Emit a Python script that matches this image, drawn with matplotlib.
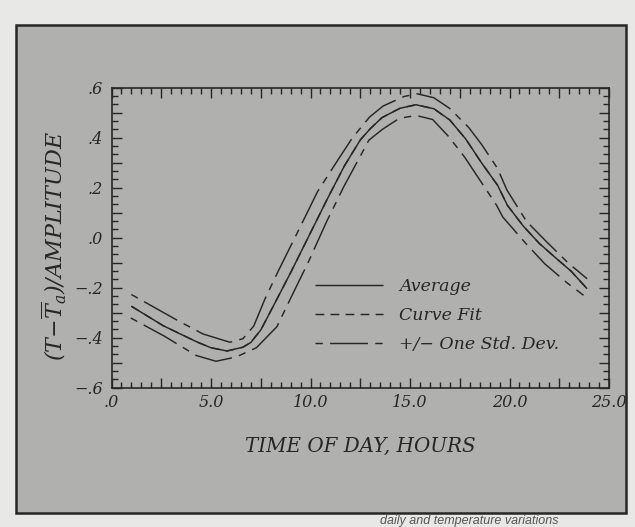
import matplotlib
matplotlib.use("Agg")
import matplotlib.pyplot as plt
from matplotlib.patches import Rectangle
from matplotlib.ticker import FixedLocator, MultipleLocator

# ---------------- data ----------------
avg_hours = [1.0, 2.6, 4.3, 5.0, 5.8, 6.6, 7.0, 7.5, 8.2, 9.05, 9.95, 10.85, 11.7,
             12.5, 13.0, 13.6, 14.5, 15.3, 16.2, 17.0, 17.8, 18.6, 19.4, 19.9,
             20.7, 21.5, 22.3, 23.1, 23.9]
avg_vals = [-0.275, -0.353, -0.418, -0.441, -0.454, -0.439, -0.42, -0.37, -0.264,
            -0.133, 0.011, 0.155, 0.286, 0.39, 0.435, 0.48, 0.517, 0.531, 0.515,
            0.47, 0.394, 0.298, 0.209, 0.128, 0.045, -0.024, -0.08, -0.135, -0.205]

fit_hours = list(avg_hours)
fit_vals = list(avg_vals)

upper_hours = [1.0, 3.3, 4.6, 5.95, 6.6, 7.15, 7.7, 8.4, 9.3, 10.35, 11.4, 12.1,
               12.97, 13.65, 14.7, 15.35, 16.2, 17.0, 17.95, 18.6, 19.4, 19.87,
               20.85, 21.8, 22.95, 23.9]
upper_vals = [-0.228, -0.331, -0.386, -0.419, -0.405, -0.354, -0.248, -0.131, 0.013,
              0.183, 0.313, 0.398, 0.482, 0.526, 0.564, 0.575, 0.559, 0.516, 0.44,
              0.372, 0.276, 0.19, 0.065, -0.012, -0.102, -0.165]

lower_hours = [0.97, 2.62, 4.26, 5.25, 6.26, 7.28, 8.31, 9.02, 9.91, 10.8, 11.69,
               12.58, 12.93, 13.62, 14.47, 15.31, 16.14, 16.95, 17.75, 18.55, 19.35,
               19.66, 20.8, 21.77, 22.9, 23.72]
lower_vals = [-0.322, -0.393, -0.472, -0.495, -0.478, -0.441, -0.357, -0.24, -0.095,
              0.062, 0.206, 0.337, 0.389, 0.433, 0.477, 0.488, 0.472, 0.403, 0.321,
              0.225, 0.129, 0.082, -0.022, -0.105, -0.182, -0.231]

x_tick_values = [0, 5, 10, 15, 20, 25]
x_tick_labels = ['.0', '5.0', '10.0', '15.0', '20.0', '25.0']
y_tick_values = [-0.6, -0.4, -0.2, 0.0, 0.2, 0.4, 0.6]
y_tick_labels = ['\u2212.6', '\u2212.4', '\u2212.2', '.0', '.2', '.4', '.6']

legend_labels = ['Average', 'Curve Fit', '+/\u2212 One Std. Dev.']
x_label = 'TIME OF DAY, HOURS'
y_label = r'$(T{-}\overline{T}_a)$/AMPLITUDE'
caption = 'daily and temperature variations'

# ---------------- style ----------------
plt.rcParams['font.family'] = ['DejaVu Serif']
plt.rcParams['mathtext.fontset'] = 'custom'
plt.rcParams['mathtext.it'] = 'DejaVu Serif:italic'
plt.rcParams['mathtext.rm'] = 'DejaVu Serif:italic'

ink = '#262626'
paper = '#b0b0ae'
outside = '#e8e8e6'

W, H = 635, 527
fig = plt.figure(figsize=(W / 100, H / 100), dpi=100, facecolor=outside)

# scanned card frame
fl, fr, ft, fb = 16, 626, 25, 513
fig.patches.append(Rectangle((fl / W, 1 - fb / H), (fr - fl) / W, (fb - ft) / H,
                             transform=fig.transFigure, facecolor=paper,
                             edgecolor=ink, linewidth=1.8, zorder=-10))

al, ar, at, ab = 111.5, 609, 87.5, 387.5
ax = fig.add_axes([al / W, 1 - ab / H, (ar - al) / W, (ab - at) / H])
ax.set_facecolor('none')
ax.set_zorder(2)

lw = 1.05
ddash = (31, (26, 5, 5, 5))
ax.plot(avg_hours, avg_vals, color=ink, lw=lw, solid_capstyle='butt',
        label=legend_labels[0])
ax.plot(fit_hours, fit_vals, color=ink, lw=lw, linestyle=(0, (6, 4.3)),
        label=legend_labels[1])
ax.plot(upper_hours, upper_vals, color=ink, lw=lw, linestyle=ddash,
        label=legend_labels[2])
ax.plot(lower_hours, lower_vals, color=ink, lw=lw, linestyle=ddash)

ax.set_xlim(0, 25)
ax.set_ylim(-0.6, 0.6)

# ticks
xmaj = [i * 2.5 for i in range(11)]
xlab = []
for v in xmaj:
    lab = ''
    for tv, tl in zip(x_tick_values, x_tick_labels):
        if abs(tv - v) < 1e-9:
            lab = tl
    xlab.append(lab)
ax.xaxis.set_major_locator(FixedLocator(xmaj))
ax.set_xticklabels(xlab)
ax.xaxis.set_minor_locator(MultipleLocator(0.5))

ymaj = [round(-0.6 + 0.1 * i, 2) for i in range(13)]
ylab = []
for v in ymaj:
    lab = ''
    for tv, tl in zip(y_tick_values, y_tick_labels):
        if abs(tv - v) < 1e-9:
            lab = tl
    ylab.append(lab)
ax.yaxis.set_major_locator(FixedLocator(ymaj))
ax.set_yticklabels(ylab)
ax.yaxis.set_minor_locator(MultipleLocator(0.1 / 3))

ax.tick_params(which='both', direction='in', top=True, right=True,
               color=ink, width=1.0, labelcolor=ink)
ax.tick_params(which='major', length=7.5)
ax.tick_params(which='minor', length=4)
ax.tick_params(axis='x', which='major', pad=5, labelsize=11.5)
ax.tick_params(axis='y', which='major', pad=6, labelsize=11.5)
for lab in ax.get_xticklabels() + ax.get_yticklabels():
    lab.set_fontstyle('italic')
for s in ax.spines.values():
    s.set_color(ink)
    s.set_linewidth(1.2)

# axis titles
fig.text(360 / W, 1 - 446 / H, x_label, ha='center', va='center',
         fontsize=14.3, style='italic', color=ink)
fig.text(54 / W, 1 - 246 / H, y_label, ha='center', va='center', rotation=90,
         fontsize=16, style='italic', color=ink)

leg = ax.legend(loc='upper left', bbox_to_anchor=((315 - al) / (ar - al), (ab - 278) / (ab - at)),
                frameon=False, borderpad=0, borderaxespad=0, handlelength=3.9,
                handletextpad=0.95, labelspacing=0.69,
                prop={'family': 'DejaVu Serif', 'style': 'italic', 'size': 12.5})
for t in leg.get_texts():
    t.set_color(ink)

# caption below the card
fig.text(380 / W, 1 - 524 / H, caption, ha='left', va='baseline', fontsize=9,
         style='italic', color='#555555', family='Liberation Sans')

fig.savefig('out.png', dpi=100, facecolor=outside)
